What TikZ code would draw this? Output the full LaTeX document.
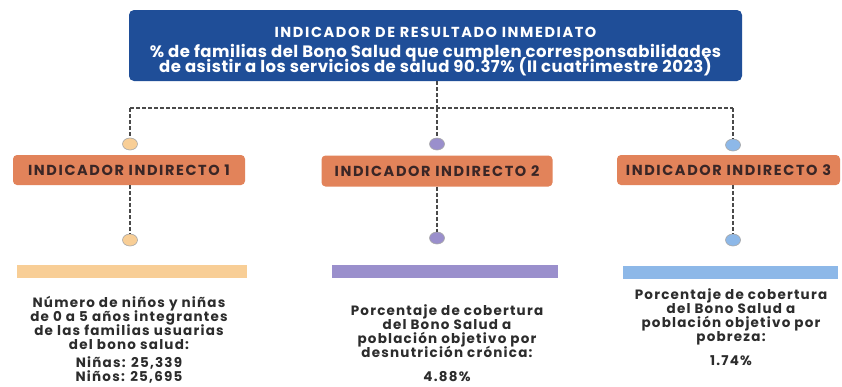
\documentclass[tikz,border=0pt]{standalone}
\usepackage{fontspec}
\setmainfont{Poppins}
\newfontfamily\capsfont{Poppins}[LetterSpace=11]
\newfontfamily\slightfont{Poppins}[LetterSpace=9]
\newfontfamily\topfont{Poppins}[LetterSpace=3]
\newcommand\tightlines{\lineskiplimit=-50pt\relax\lineskip=0pt\relax}
\usetikzlibrary{shapes.geometric}
\definecolor{topblue}{HTML}{1F4E98}
\definecolor{boxorange}{HTML}{E2835A}
\definecolor{peach}{HTML}{F8CE96}
\definecolor{lilac}{HTML}{9A8FCC}
\definecolor{skyblue}{HTML}{8DB8E8}
\definecolor{dashgray}{HTML}{4A4A4A}
\definecolor{txt}{HTML}{2C2C2C}
\definecolor{boxtxt}{HTML}{3A2626}
\tikzset{
  topbox/.style={fill=topblue, rounded corners=5pt, inner sep=0pt},
  capstext/.style={inner sep=0pt, font={\capsfont\bfseries\fontsize{14.5}{15}\selectfont}},
  indbox/.style={capstext, fill=boxorange, rounded corners=4pt, text=boxtxt},
  bar/.style={inner sep=0pt, minimum height=13pt},
  dot/.style={ellipse, draw=gray!70, line width=0.6pt, minimum width=15pt, minimum height=12pt, inner sep=0pt},
  link/.style={draw=dashgray, line width=1.2pt, dash pattern=on 4pt off 2pt},
  desc/.style={text=txt, align=center, anchor=base, inner sep=0pt,
    font={\slightfont\bfseries\fontsize{13.5}{14}\selectfont\tightlines}},
}
\begin{document}
\begin{tikzpicture}[x=1pt,y=-1pt]
\useasboundingbox (0,0) rectangle (842,386);
\fill[white] (0,0) rectangle (842,386);

\node[topbox, minimum width=613pt, minimum height=71pt] (top) at (435.5,45.5) {};
\node[capstext, text=white, anchor=base] (toptitle) at (435.5,37) {INDICADOR DE RESULTADO INMEDIATO};
\node[text=white, align=center, anchor=base, inner sep=0pt,
  font={\topfont\bfseries\fontsize{16.5}{15}\selectfont\tightlines}] (topline) at (435.5,72)
  {\% de familias del Bono Salud que cumplen corresponsabilidades\\de asistir a los servicios de salud 90.37\% (II cuatrimestre 2023)};

\coordinate (j) at (437,108);
\coordinate (jl) at (130,108);
\coordinate (jr) at (733,108);

\node[indbox, minimum width=232pt, minimum height=30pt] (b1) at (129,170) {INDICADOR INDIRECTO 1};
\node[indbox, minimum width=231pt, minimum height=31pt] (b2) at (437,171) {INDICADOR INDIRECTO 2};
\node[indbox, minimum width=223pt, minimum height=30pt] (b3) at (728.5,170) {INDICADOR INDIRECTO 3};

\node[dot, fill=peach] (u1) at (130,144) {};
\node[dot, fill=lilac] (u2) at (437,144) {};
\node[dot, fill=skyblue] (u3) at (733,145) {};
\node[dot, fill=peach] (l1) at (130,240) {};
\node[dot, fill=lilac] (l2) at (437,238) {};
\node[dot, fill=skyblue] (l3) at (733,240) {};

\draw[link] (top.south -| j) -- (j);
\draw[link] (jl) -- (jr);
\draw[link] (jl) -- (u1.north);
\draw[link] (j) -- (u2.north);
\draw[link] (jr) -- (u3.north);
\draw[link] (b1.south -| l1) -- (l1.north);
\draw[link] (b2.south -| l2) -- (l2.north);
\draw[link] (b3.south -| l3) -- (l3.north);

\node[bar, fill=peach, minimum width=230pt] (bar1) at (132,271.5) {};
\node[bar, fill=lilac, minimum width=226pt] (bar2) at (445,271.5) {};
\node[bar, fill=skyblue, minimum width=215pt] (bar3) at (730.5,272) {};

\node[desc] (d1) at (129,349) {Número de niños y niñas\\de 0 a 5 años integrantes\\de las familias usuarias\\del bono salud:};
\node[desc] (n1) at (129,381) {Niñas: 25,339\\Niños: 25,695};
\node[desc] (d2) at (447,357) {Porcentaje de cobertura\\del Bono Salud a\\población objetivo por\\desnutrición crónica:};
\node[desc] (n2) at (447,381) {4.88\%};
\node[desc] (d3) at (731,341) {Porcentaje de cobertura\\del Bono Salud a\\población objetivo por\\pobreza:};
\node[desc] (n3) at (731,365) {1.74\%};
\end{tikzpicture}
\end{document}
